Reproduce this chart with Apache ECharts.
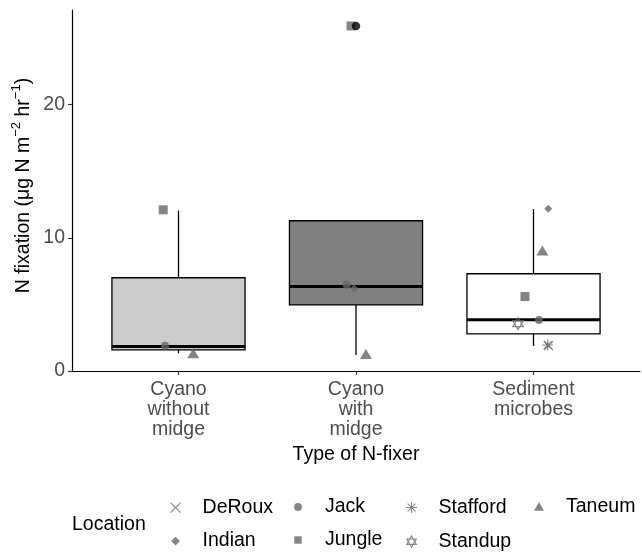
<!DOCTYPE html>
<html>
<head>
<meta charset="utf-8">
<script src="https://cdn.jsdelivr.net/npm/echarts@6/dist/echarts.min.js"></script>
<style>
  html, body { margin: 0; padding: 0; background: #fff; }
  #chart { width: 642px; height: 553px; }
</style>
</head>
<body>
<div id="chart"></div>
<script>
// ---- Data ----
const categories = ['Cyano\nwithout\nmidge', 'Cyano\nwith\nmidge', 'Sediment\nmicrobes'];
const yTicks = [0, 10, 20];

// Box statistics per category (min whisker, Q1, median, Q3, max whisker)
const boxMin    = [1.33, 1.20, 1.88];
const boxQ1     = [1.58, 4.96, 2.78];
const boxMedian = [1.83, 6.34, 3.85];
const boxQ3     = [7.00, 11.28, 7.30];
const boxMax    = [12.05, 11.28, 12.16];
const outliers  = [[2, 25.9]];

// Jittered points per location: [x position (category index + jitter), N fixation]
const locations = ['DeRoux', 'Indian', 'Jack', 'Jungle', 'Stafford', 'Standup', 'Taneum'];
const deRoux   = [[3.085, 1.90]];
const indian   = [[1.989, 6.22], [3.083, 12.18]];
const jack     = [[0.924, 1.90], [1.948, 6.47], [3.031, 3.83]];
const jungle   = [[0.914, 12.10], [1.972, 25.90], [2.952, 5.59]];
const stafford = [[3.080, 1.95]];
const standup  = [[2.913, 3.55]];
const taneum   = [[1.083, 1.33], [2.056, 1.28], [3.050, 9.05]];

// ---- Styles ----
const boxFills = ['#CCCCCC', '#808080', '#FFFFFF'];
const ptColor = '#666666';
const FONT = 'Liberation Sans, Arial, Helvetica, sans-serif';
const FS = 19.5;

const corner = 'M0 0L0 0M44 20L44 20';
const legendIcons = {
  DeRoux:   'path://' + corner + 'M17 5L27 15M27 5L17 15',
  Indian:   'path://' + corner + 'M22 5.6L26.4 10L22 14.4L17.6 10Z',
  Jack:     'path://' + corner + 'M18.1 10A3.9 3.9 0 1 1 25.9 10A3.9 3.9 0 1 1 18.1 10Z',
  Jungle:   'path://' + corner + 'M18.3 6.3L25.7 6.3L25.7 13.7L18.3 13.7Z',
  Stafford: 'path://' + corner + 'M22 4.5L22 15.5M16.5 10L27.5 10M18.1 6.1L25.9 13.9M25.9 6.1L18.1 13.9',
  Standup:  'path://' + corner + 'M22 4.3L26.8 12.7L17.2 12.7ZM22 15.7L17.2 7.3L26.8 7.3Z',
  Taneum:   'path://' + corner + 'M22 5L27 13.7L17 13.7Z'
};
const strokedSet = { DeRoux: true, Stafford: true, Standup: true };

function legendItem(name) {
  const stroked = strokedSet[name];
  return {
    name: name,
    icon: legendIcons[name],
    itemStyle: stroked
      ? { color: 'transparent', borderColor: ptColor, borderWidth: 1.1 }
      : { color: ptColor, borderWidth: 0 }
  };
}
function legendCol(left, names) {
  return {
    left: left, top: 497, height: 56, orient: 'vertical', padding: 0,
    itemWidth: 44, itemHeight: 20, itemGap: 13, selectedMode: false,
    textStyle: { fontFamily: FONT, fontSize: FS, color: '#000' },
    data: names.map(legendItem)
  };
}

const boxData = categories.map((c, i) => [i + 1, boxMin[i], boxQ1[i], boxMedian[i], boxQ3[i], boxMax[i]]);

const strokeStyle = { color: 'transparent', borderColor: ptColor, borderWidth: 1.2 };
const fillStyle = { color: ptColor, borderWidth: 0 };

function scatter(name, data, symbol, size, stroked) {
  return {
    type: 'scatter', name: name, data: data, symbol: symbol, symbolSize: size,
    itemStyle: stroked ? strokeStyle : fillStyle, z: 3, silent: true
  };
}

const option = {
  animation: false,
  backgroundColor: '#fff',
  title: {
    text: 'Location', left: 72, top: 515, padding: 0,
    textStyle: { fontFamily: FONT, fontSize: FS, fontWeight: 'normal', color: '#000' }
  },
  legend: [
    legendCol(153, ['DeRoux', 'Indian']),
    legendCol(276, ['Jack', 'Jungle']),
    legendCol(389, ['Stafford', 'Standup']),
    legendCol(517, ['Taneum'])
  ],
  grid: { left: 72, right: 2, top: 10, bottom: 182, containLabel: false, outerBoundsMode: 'none' },
  xAxis: {
    type: 'value', min: 0.4, max: 3.6,
    splitLine: { show: false },
    axisLine: { show: true, onZero: false, lineStyle: { color: '#000', width: 1.2 } },
    axisTick: { show: true, customValues: [1, 2, 3], length: 4, lineStyle: { color: '#333', width: 1.1 } },
    axisLabel: {
      customValues: [1, 2, 3], margin: 9,
      formatter: v => categories[Math.round(v) - 1],
      fontFamily: FONT, fontSize: FS, color: '#4D4D4D', lineHeight: 20
    },
    name: 'Type of N-fixer', nameLocation: 'middle', nameGap: 74, nameMoveOverlap: false,
    nameTextStyle: { fontFamily: FONT, fontSize: FS, color: '#000' }
  },
  yAxis: {
    type: 'value', min: 0, max: 27.1,
    splitLine: { show: false },
    axisLine: { show: true, onZero: false, lineStyle: { color: '#000', width: 1.2 } },
    axisTick: { show: true, customValues: yTicks, length: 4, lineStyle: { color: '#333', width: 1.1 } },
    axisLabel: {
      customValues: yTicks, margin: 7,
      fontFamily: FONT, fontSize: FS, color: '#4D4D4D'
    },
    name: 'N fixation (\u03bcg N m{sup|\u22122} hr{sup|\u22121})',
    nameLocation: 'middle', nameGap: 34, nameRotate: 90, nameMoveOverlap: false,
    nameTextStyle: {
      fontFamily: FONT, fontSize: FS, color: '#000', lineHeight: 28, padding: [0, 0, 0, 10],
      rich: { sup: { fontFamily: FONT, fontSize: 13, lineHeight: 13, verticalAlign: 'top', color: '#000' } }
    }
  },
  series: [
    {
      type: 'custom', name: 'box', data: boxData, z: 2, silent: true,
      renderItem: function (params, api) {
        const x = api.value(0);
        const pMin = api.coord([x, api.value(1)]);
        const pQ1 = api.coord([x, api.value(2)]);
        const pMed = api.coord([x, api.value(3)]);
        const pQ3 = api.coord([x, api.value(4)]);
        const pMax = api.coord([x, api.value(5)]);
        const hw = api.size([0.75, 0])[0] / 2;
        const fill = boxFills[params.dataIndex];
        const ls = { stroke: '#000', lineWidth: 1.3 };
        return {
          type: 'group',
          children: [
            { type: 'line', shape: { x1: pQ3[0], y1: pQ3[1], x2: pMax[0], y2: pMax[1] }, style: ls },
            { type: 'line', shape: { x1: pQ1[0], y1: pQ1[1], x2: pMin[0], y2: pMin[1] }, style: ls },
            { type: 'rect', shape: { x: pQ3[0] - hw, y: pQ3[1], width: 2 * hw, height: pQ1[1] - pQ3[1] },
              style: { fill: fill, stroke: '#000', lineWidth: 1.3 } },
            { type: 'line', shape: { x1: pMed[0] - hw, y1: pMed[1], x2: pMed[0] + hw, y2: pMed[1] },
              style: { stroke: '#000', lineWidth: 3 } }
          ]
        };
      }
    },
    scatter('DeRoux', deRoux, 'path://M0 0L10 10M10 0L0 10', 9, true),
    scatter('Indian', indian, 'diamond', 8, false),
    scatter('Jack', jack, 'circle', 8, false),
    scatter('Jungle', jungle, 'rect', 9, false),
    scatter('Stafford', stafford, 'path://M5 0L5 10M0 5L10 5M1.46 1.46L8.54 8.54M8.54 1.46L1.46 8.54', 11, true),
    scatter('Standup', standup, 'path://M5 0L9.33 7.5L0.67 7.5ZM5 10L0.67 2.5L9.33 2.5Z', [10.5, 12], true),
    scatter('Taneum', taneum, 'triangle', [12, 10], false),
    {
      type: 'scatter', name: 'outlier', data: outliers, symbol: 'circle', symbolSize: 8.5,
      itemStyle: { color: '#000' }, z: 4, silent: true
    }
  ]
};

const chart = echarts.init(document.getElementById('chart'), null, { renderer: 'canvas' });
chart.setOption(option);
</script>
</body>
</html>
